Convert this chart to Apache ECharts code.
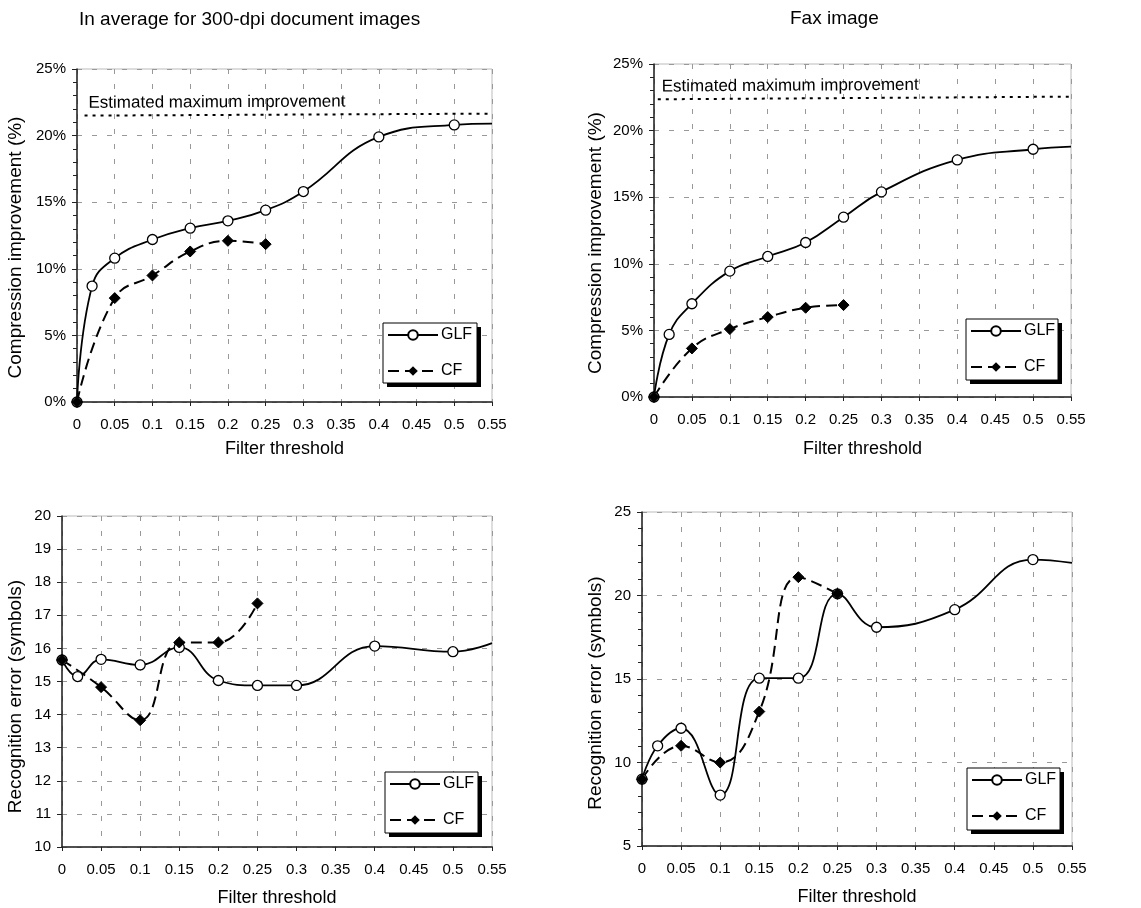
<!DOCTYPE html>
<html>
<head>
<meta charset="utf-8">
<script src="https://cdn.jsdelivr.net/npm/echarts@6/dist/echarts.min.js"></script>
<style>
  html, body { margin: 0; padding: 0; background: #fff; }
  #chart { width: 1141px; height: 908px; }
</style>
</head>
<body>
<div id="chart"></div>
<script>
// filter thresholds (last GLF point is just the curve tail, drawn without a marker)
const glfThresholds = [0, 0.02, 0.05, 0.1, 0.15, 0.2, 0.25, 0.3, 0.4, 0.5, 0.55];
const cfThresholds = [0, 0.05, 0.1, 0.15, 0.2, 0.25];

// compression improvement (%)
const docGlfCompression = [0, 8.7, 10.8, 12.2, 13.05, 13.6, 14.4, 15.8, 19.9, 20.8, 20.9];
const docCfCompression = [0, 7.8, 9.5, 11.3, 12.1, 11.85];
const faxGlfCompression = [0, 4.7, 7.0, 9.45, 10.55, 11.6, 13.5, 15.4, 17.8, 18.6, 18.8];
const faxCfCompression = [0, 3.65, 5.1, 6.0, 6.7, 6.9];

// estimated maximum improvement (%), at start and end of the dotted line
const docMaxThresholds = [0.01, 0.55];
const docMaxImprovement = [21.5, 21.65];
const faxMaxThresholds = [0.005, 0.55];
const faxMaxImprovement = [22.35, 22.55];

// recognition error (symbols)
const docGlfError = [15.65, 15.15, 15.67, 15.5, 16.03, 15.03, 14.88, 14.88, 16.07, 15.9, 16.16];
const docCfError = [15.65, 14.83, 13.83, 16.18, 16.18, 17.36];
const faxGlfError = [9.0, 11.0, 12.05, 8.05, 15.05, 15.05, 20.1, 18.1, 19.15, 22.15, 21.95];
const faxCfError = [9.0, 11.0, 10.0, 13.05, 21.1, 20.1];

const titles = ["In average for 300-dpi document images", "Fax image"];
const xName = "Filter threshold";
const yNames = ["Compression improvement (%)", "Recognition error (symbols)"];

const FONT = "'Liberation Sans', Arial, sans-serif";

// legend boxes [left, top, width, height]
const legendBoxes = [
  [383, 323, 94, 60],
  [966, 319, 92, 61],
  [385, 772, 93, 61],
  [967, 768, 93, 62],
];

const chart = echarts.init(document.getElementById("chart"), null, { renderer: "canvas" });

function glfPoints(values) {
  return values.map((v, i) => {
    const item = { value: [glfThresholds[i], v] };
    if (i === values.length - 1) item.symbol = "none";
    return item;
  });
}

function cfPoints(values) {
  return values.map((v, i) => [cfThresholds[i], v]);
}

function maxLine(xs, ys) {
  return {
    silent: true,
    symbol: ["none", "none"],
    lineStyle: { color: "#000", type: [3, 5], width: 2 },
    label: {
      show: true,
      position: "insideStartTop",
      distance: [4, 4],
      formatter: "Estimated maximum improvement",
      color: "#000",
      fontSize: 17,
      fontFamily: FONT,
    },
    data: [[{ coord: [xs[0], ys[0]] }, { coord: [xs[1], ys[1]] }]],
  };
}

function xAxisFor(gridIndex, gap) {
  return {
    type: "value",
    gridIndex: gridIndex,
    min: 0,
    max: 0.55,
    interval: 0.05,
    name: xName,
    nameLocation: "middle",
    nameGap: gap,
    nameTextStyle: { color: "#000", fontSize: 18, fontFamily: FONT },
    axisLine: { show: true, onZero: false, lineStyle: { color: "#222", width: 1.5 } },
    axisTick: { show: true, length: 4, lineStyle: { color: "#222" } },
    axisLabel: { color: "#000", fontSize: 15, fontFamily: FONT, margin: 15 },
    splitLine: { show: true, lineStyle: { color: "#999", type: [5, 10], width: 1 } },
  };
}

function yAxisFor(gridIndex, opts) {
  return {
    type: "value",
    gridIndex: gridIndex,
    min: opts.min,
    max: opts.max,
    interval: opts.interval,
    name: opts.name,
    nameLocation: "middle",
    nameGap: opts.gap,
    nameTextStyle: {
      color: "#000",
      fontSize: 19,
      fontFamily: FONT,
      padding: [0, opts.shift, 0, 0],
    },
    axisLine: { show: true, lineStyle: { color: "#222", width: 1.5 } },
    axisTick: { show: true, length: 5, lineStyle: { color: "#222" } },
    minorTick: { show: opts.minor, splitNumber: 5, length: 4, lineStyle: { color: "#222" } },
    axisLabel: {
      color: "#000",
      fontSize: 15,
      fontFamily: FONT,
      margin: 11,
      formatter: opts.percent ? "{value}%" : "{value}",
    },
    splitLine: { show: true, lineStyle: { color: "#999", type: [5, 10], width: 1 } },
  };
}

function glfSeries(idx, values, markLine) {
  const s = {
    name: "GLF",
    type: "line",
    xAxisIndex: idx,
    yAxisIndex: idx,
    smooth: 0.45,
    symbol: "circle",
    symbolSize: 10,
    lineStyle: { color: "#000", width: 1.8 },
    itemStyle: { color: "#fff", borderColor: "#000", borderWidth: 1.3 },
    data: glfPoints(values),
  };
  if (markLine) s.markLine = markLine;
  return s;
}

function cfSeries(idx, values) {
  return {
    name: "CF",
    type: "line",
    xAxisIndex: idx,
    yAxisIndex: idx,
    smooth: 0.45,
    symbol: "diamond",
    symbolSize: 11,
    lineStyle: { color: "#000", width: 2, type: [11, 6] },
    itemStyle: { color: "#000", borderColor: "#000" },
    data: cfPoints(values),
  };
}

function legendAt(box) {
  return {
    data: ["GLF", "CF"],
    orient: "vertical",
    left: box[0] + 4,
    top: box[1] + 4,
    itemWidth: 50,
    itemHeight: 12,
    itemGap: 20,
    padding: [0, 0, 0, 0],
    selectedMode: false,
    z: 10,
    textStyle: { color: "#000", fontSize: 16, fontFamily: FONT, padding: [0, 0, 0, -2] },
  };
}

// white box with thin border and a solid drop shadow, behind each legend
function legendFrame(box) {
  return [
    {
      type: "rect",
      z: 8,
      shape: { x: box[0] + 4, y: box[1] + 4, width: box[2], height: box[3] },
      style: { fill: "#000" },
      silent: true,
    },
    {
      type: "rect",
      z: 9,
      shape: { x: box[0], y: box[1], width: box[2], height: box[3] },
      style: { fill: "#fff", stroke: "#000", lineWidth: 1 },
      silent: true,
    },
  ];
}

const option = {
  backgroundColor: "#fff",
  animation: false,
  title: [
    { text: titles[0], left: 74, top: 5, textStyle: { fontSize: 19, fontWeight: "normal", color: "#000", fontFamily: FONT } },
    { text: titles[1], left: 785, top: 4, textStyle: { fontSize: 19, fontWeight: "normal", color: "#000", fontFamily: FONT } },
  ],
  grid: [
    { left: 77, right: 649, top: 69, bottom: 506, show: true, borderColor: "#bbb", borderWidth: 1 },
    { left: 654, right: 70, top: 64, bottom: 511, show: true, borderColor: "#bbb", borderWidth: 1 },
    { left: 62, right: 649, top: 516, bottom: 60, show: true, borderColor: "#bbb", borderWidth: 1 },
    { left: 642, right: 69, top: 512, bottom: 62, show: true, borderColor: "#bbb", borderWidth: 1 },
  ],
  graphic: legendBoxes.flatMap(legendFrame),
  legend: legendBoxes.map(legendAt),
  xAxis: [xAxisFor(0, 38), xAxisFor(1, 43), xAxisFor(2, 42), xAxisFor(3, 42)],
  yAxis: [
    yAxisFor(0, { min: 0, max: 25, interval: 5, name: yNames[0], gap: 52, shift: 24, minor: true, percent: true }),
    yAxisFor(1, { min: 0, max: 25, interval: 5, name: yNames[0], gap: 49, shift: 25, minor: true, percent: true }),
    yAxisFor(2, { min: 10, max: 20, interval: 1, name: yNames[1], gap: 37, shift: 30, minor: false, percent: false }),
    yAxisFor(3, { min: 5, max: 25, interval: 5, name: yNames[1], gap: 37, shift: 28, minor: true, percent: false }),
  ],
  series: [
    glfSeries(0, docGlfCompression, maxLine(docMaxThresholds, docMaxImprovement)),
    cfSeries(0, docCfCompression),
    glfSeries(1, faxGlfCompression, maxLine(faxMaxThresholds, faxMaxImprovement)),
    cfSeries(1, faxCfCompression),
    glfSeries(2, docGlfError),
    cfSeries(2, docCfError),
    glfSeries(3, faxGlfError),
    cfSeries(3, faxCfError),
  ],
};

chart.setOption(option);
</script>
</body>
</html>
